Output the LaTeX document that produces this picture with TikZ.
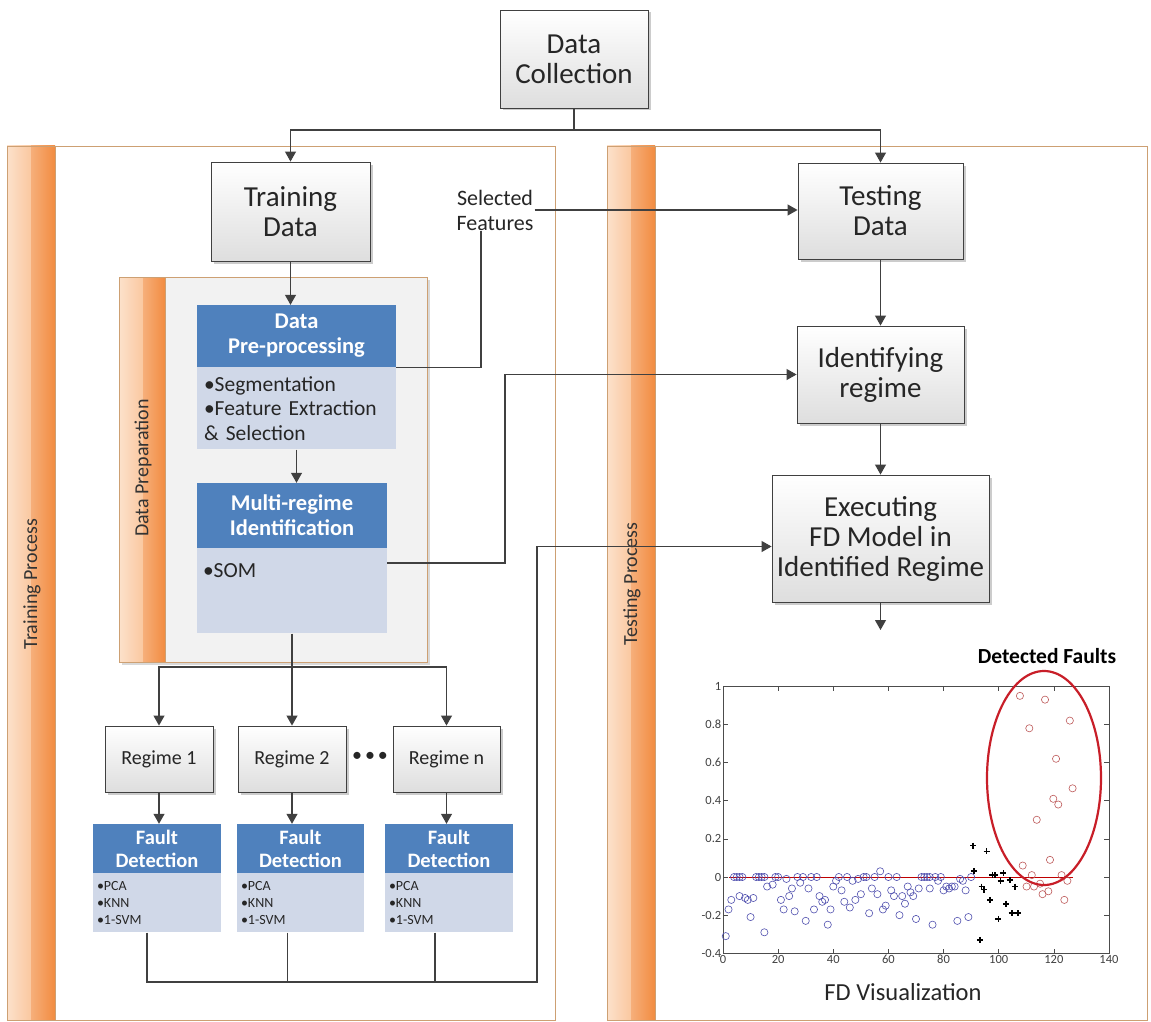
\documentclass[tikz,border=0pt]{standalone}
\usepackage{fontspec}
\setmainfont{Carlito}
\usepackage{tikz}
\usetikzlibrary{arrows.meta,positioning,shadows,plotmarks}

\definecolor{hdrblue}{RGB}{79,129,189}
\definecolor{bodyblue}{RGB}{208,216,232}
\definecolor{barlight}{RGB}{250,200,160}
\definecolor{bardark}{RGB}{242,140,65}
\definecolor{panelline}{RGB}{205,160,115}
\definecolor{linegray}{RGB}{64,64,64}
\definecolor{normpt}{RGB}{80,80,175}
\definecolor{faultpt}{RGB}{190,90,90}
\definecolor{ringred}{RGB}{200,30,40}

\tikzset{
  graybox/.style={draw=linegray, line width=0.9pt, top color=white, bottom color=black!13,
    drop shadow={shadow xshift=2.5pt, shadow yshift=-2.5pt, opacity=0.4},
    align=center, inner sep=0pt, text=black!85, font=\fontsize{29}{30}\selectfont},
  bluehead/.style={fill=hdrblue, text=white, align=center, inner sep=0pt,
    font=\bfseries\fontsize{22.5}{25}\selectfont},
  bluebody/.style={fill=bodyblue, align=left, inner ysep=0pt, text=black!85},
  barlabel/.style={rotate=90, inner sep=0pt, text=black!80, font=\fontsize{20}{24}\selectfont},
  conn/.style={draw=linegray, line width=1.1pt},
  arr/.style={conn, -{Triangle[length=10pt,width=11pt]}},
  ticklbl/.style={inner sep=1.5pt, text=black!75, font=\fontsize{12.5}{13}\selectfont}
}

\begin{document}
\begin{tikzpicture}[x=1pt,y=-1pt]
  \path[use as bounding box, fill=white] (0,0) rectangle (1151,1022);

  % Panels
  \draw[panelline, fill=white] (7,146) rectangle (555,1020);
  \shade[left color=barlight!55!white, right color=barlight] (7,146) rectangle (31,1020);
  \shade[left color=bardark!70!white, right color=bardark] (31,146) rectangle (55,1020);
  \draw[panelline] (7,146) rectangle (555,1020) (55,146) -- (55,1020);

  \draw[panelline, fill=white] (607,146) rectangle (1147,1020);
  \shade[left color=barlight!55!white, right color=barlight] (607,146) rectangle (631,1020);
  \shade[left color=bardark!70!white, right color=bardark] (631,146) rectangle (655,1020);
  \draw[panelline] (607,146) rectangle (1147,1020) (655,146) -- (655,1020);

  \node[barlabel] (trainlbl) at (32,584) {Training Process};
  \node[barlabel] (testlbl) at (632,584) {Testing Process};

  % Data preparation
  \fill[black!15] (122,280) rectangle (430,665);
  \draw[panelline, fill=black!5] (119,277) rectangle (427,662);
  \shade[left color=barlight!55!white, right color=barlight] (119,277) rectangle (143,662);
  \shade[left color=bardark!70!white, right color=bardark] (143,277) rectangle (165,662);
  \draw[panelline] (119,277) rectangle (427,662) (165,277) -- (165,662);
  \node[barlabel] (preplbl) at (143,468) {Data Preparation};

  % Nodes
  \node[graybox, minimum width=148pt, minimum height=98pt] (datacoll) at (574,59) {Data\\Collection};
  \node[graybox, minimum width=159pt, minimum height=99pt] (traindata) at (290.5,211.5) {Training\\Data};
  \node[graybox, minimum width=165pt, minimum height=96pt] (testdata) at (880.5,211) {Testing\\Data};
  \node[graybox, minimum width=167pt, minimum height=97pt] (identreg) at (880.5,374.5) {Identifying\\regime};
  \node[graybox, minimum width=217pt, minimum height=127pt] (execfd) at (880.5,538.5) {Executing\\FD Model in\\Identified Regime};
  \node[align=center, inner sep=1pt, text=black!85, font=\fontsize{22}{25}\selectfont] (selfeat) at (495,210) {Selected\\Features};

  \node[bluehead, minimum width=199pt, minimum height=62pt] (prephead) at (296.5,336) {Data\\Pre-processing};
  \node[bluebody, minimum width=199pt, minimum height=82pt, text width=185pt, inner xsep=7pt,
    font=\fontsize{21.5}{24.5}\selectfont, below=0pt of prephead] (prepbody) {•Segmentation\\•Feature Extraction\\\& Selection};
  \node[bluehead, minimum width=190pt, minimum height=65pt] (regimehead) at (292,515.5) {Multi-regime\\Identification};
  \node[bluebody, minimum width=190pt, text width=178pt, inner xsep=6pt, text height=29pt, text depth=56pt,
    font=\fontsize{21.5}{24.5}\selectfont, below=0pt of regimehead] (regimebody) {•SOM};

  \node[graybox, minimum width=108pt, minimum height=66pt, font=\fontsize{20}{24}\selectfont] (reg1) at (159,759) {Regime 1};
  \node[graybox, minimum width=108pt, minimum height=66pt, font=\fontsize{20}{24}\selectfont] (reg2) at (292,759) {Regime 2};
  \node[graybox, minimum width=107pt, minimum height=66pt, font=\fontsize{20}{24}\selectfont] (regn) at (446.5,759) {Regime n};
  \node[inner sep=0pt, text=black!85, font=\fontsize{20}{24}\selectfont] (regdots) at (370,757) {•\hspace{3pt}•\hspace{3pt}•};

  \node[bluehead, minimum width=128pt, minimum height=49pt, font=\bfseries\fontsize{20.5}{23}\selectfont] (fd1h) at (157,848.5) {Fault\\Detection};
  \node[bluebody, minimum width=128pt, minimum height=59pt, text width=120pt, inner xsep=4pt,
    font=\fontsize{14}{17}\selectfont, below=0pt of fd1h] (fd1b) {•PCA\\•KNN\\•1-SVM};
  \node[bluehead, minimum width=127pt, minimum height=49pt, font=\bfseries\fontsize{20.5}{23}\selectfont] (fd2h) at (300.5,848.5) {Fault\\Detection};
  \node[bluebody, minimum width=127pt, minimum height=59pt, text width=119pt, inner xsep=4pt,
    font=\fontsize{14}{17}\selectfont, below=0pt of fd2h] (fd2b) {•PCA\\•KNN\\•1-SVM};
  \node[bluehead, minimum width=128pt, minimum height=49pt, font=\bfseries\fontsize{20.5}{23}\selectfont] (fd3h) at (449,848.5) {Fault\\Detection};
  \node[bluebody, minimum width=128pt, minimum height=59pt, text width=120pt, inner xsep=4pt,
    font=\fontsize{14}{17}\selectfont, below=0pt of fd3h] (fd3b) {•PCA\\•KNN\\•1-SVM};

  % Connectors
  \coordinate (splitdc) at (574,130);
  \draw[conn] (datacoll.south) -- (splitdc);
  \draw[arr] (splitdc) -| (traindata.north);
  \draw[arr] (splitdc) -| (testdata.north);

  \draw[arr] (traindata.south) -- (traindata.south |- prephead.north);
  \draw[arr] (prepbody.south) -- (prepbody.south |- regimehead.north);

  \draw[conn] (prepbody.north east) -| ([xshift=-14pt]selfeat.south);
  \draw[arr] (selfeat.east) -- (selfeat.east -| testdata.west);

  \coordinate (somturn) at (505,563);
  \draw[arr] (regimebody.east |- somturn) -- (somturn) |- (identreg.west);

  \coordinate (regsplit) at (292,667);
  \draw[conn] (regimebody.south) -- (regsplit);
  \draw[arr] (regsplit) -| (reg1.north);
  \draw[arr] (regsplit) -- (reg2.north);
  \draw[arr] (regsplit) -| (regn.north);

  \draw[arr] (reg1.south) -- (reg1.south |- fd1h.north);
  \draw[arr] (reg2.south) -- (reg2.south |- fd2h.north);
  \draw[arr] (regn.south) -- (regn.south |- fd3h.north);

  \coordinate (fdjoin) at (537,982);
  \draw[arr] ([xshift=-10pt]fd1b.south) |- (fdjoin) |- ([yshift=-8pt]execfd.west);
  \draw[conn] ([xshift=-13pt]fd2b.south) -- ([xshift=-13pt]fd2b.south |- fdjoin);
  \draw[conn] ([xshift=-14pt]fd3b.south) -- ([xshift=-14pt]fd3b.south |- fdjoin);

  \draw[arr] (testdata) -- (identreg);
  \draw[arr] (identreg) -- (execfd);
  \coordinate (fdout) at (880.5,630);
  \draw[arr] (execfd.south) -- (fdout);

  % FD visualization
  \node[inner sep=0pt, font=\bfseries\fontsize{21.5}{24}\selectfont] (detlbl) at (1047,656) {Detected Faults};
  \node[inner sep=0pt, text=black!85, font=\fontsize{24.5}{27}\selectfont] (vislbl) at (903,992) {FD Visualization};
  \begin{scope}[shift={(723,877)}, x=2.757pt, y=190.7pt]
    \draw[black!70, line width=0.6pt] (0,-0.4) rectangle (140,1);
    \foreach \t in {0,20,...,140} {
      \draw[black!70, line width=0.5pt] (\t,-0.4) -- ++(0,0.025) (\t,1) -- ++(0,-0.025);
      \node[ticklbl, below] (xt\t) at (\t,-0.4) {\t};
    }
    \foreach \v in {-0.4,-0.2,0,0.2,0.4,0.6,0.8,1} {
      \draw[black!70, line width=0.5pt] (0,\v) -- ++(1.8,0) (140,\v) -- ++(-1.8,0);
      \node[ticklbl, left] at (0,\v) {\v};
    }
    \draw[red!75!black, line width=0.8pt] (2,0) -- (127,0);
    \draw[normpt, line width=0.6pt] plot[only marks, mark=o, mark size=3.6pt] coordinates {
      (1,-0.31) (2,-0.17) (3,-0.12) (4,0) (5,0) (6,0) (7,0) (6,-0.10) (8,-0.11) (9,-0.12)
      (10,-0.21) (11,-0.11) (12,0) (13,0) (14,0) (15,0) (15,-0.29) (16,-0.05) (18,-0.04) (19,0)
      (20,0) (21,-0.12) (22,-0.17) (23,-0.01) (24,-0.10) (25,-0.06) (26,-0.18) (27,0) (28,-0.03) (29,0)
      (30,-0.23) (31,-0.06) (32,0) (33,-0.17) (34,0) (35,-0.10) (36,-0.13) (37,-0.12) (38,-0.25) (39,-0.17)
      (40,-0.05) (41,-0.02) (42,0) (43,-0.07) (44,-0.13) (45,0) (46,-0.16) (47,-0.02) (48,-0.12) (49,-0.01)
      (50,-0.09) (51,0) (52,0) (53,-0.19) (54,-0.06) (55,0) (56,-0.09) (57,0.03) (58,-0.17) (59,-0.15)
      (60,0) (61,-0.07) (62,-0.10) (63,0) (64,-0.20) (65,-0.10) (66,-0.14) (67,-0.05) (68,-0.08) (69,-0.10)
      (70,-0.22) (71,-0.06) (72,0) (73,0) (74,0) (75,0) (75,-0.06) (76,-0.25) (77,0) (78,-0.02)
      (79,0) (80,-0.07) (81,-0.05) (82,-0.06) (83,-0.05) (84,-0.05) (85,-0.23) (86,-0.01) (87,-0.02) (88,-0.07)
      (89,-0.21) (90,0)};
    \draw[black, line width=1.7pt] plot[only marks, mark=+, mark size=3pt] coordinates {
      (90.8,0.165) (91,0.03) (93.2,-0.33) (93.8,-0.05) (94.7,-0.066) (95.6,0.134) (96.9,-0.12)
      (97.7,0.01) (98.7,0.01) (99.9,-0.22) (100.7,-0.02) (101.7,0.02) (102.7,-0.14) (104,-0.015)
      (104.7,-0.19) (105.9,-0.05) (107.1,-0.19)};
    \draw[faultpt, line width=0.6pt] plot[only marks, mark=o, mark size=3.6pt] coordinates {
      (107.7,0.95) (108.7,0.06) (110.1,-0.05) (111.1,0.78) (112,0.01) (112.8,-0.05) (113.8,0.30)
      (115,-0.035) (115.9,-0.09) (116.8,0.93) (118,-0.075) (118.6,0.09) (119.8,0.41) (120.8,0.62)
      (121.6,0.38) (122.8,0.01) (123.8,-0.12) (124.9,-0.02) (125.8,0.82) (126.8,0.465)};
  \end{scope}
  \draw[ringred, line width=2.2pt] (1044,778) ellipse [x radius=57pt, y radius=107pt];

\end{tikzpicture}
\end{document}
